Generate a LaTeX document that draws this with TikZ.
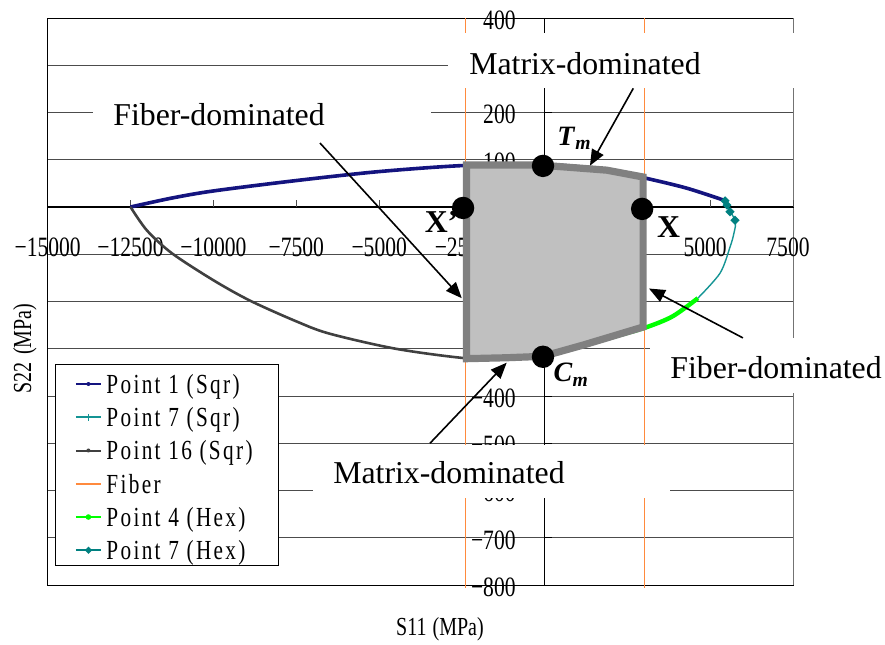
\documentclass[tikz,border=0pt]{standalone}
\usepackage{fontspec}
\setmainfont{Liberation Serif}
\newfontfamily\ticksf[FakeStretch=0.77]{Liberation Serif}
\newfontfamily\legsf[FakeStretch=0.77,LetterSpace=8.5]{Liberation Serif}
\usepackage{tikz}
\usetikzlibrary{arrows.meta,positioning}
\definecolor{cPone}{HTML}{14147F}
\definecolor{cPseven}{HTML}{149494}
\definecolor{cPsixteen}{HTML}{404040}
\definecolor{cFib}{HTML}{FF8A3D}
\definecolor{cHexfour}{HTML}{00FF00}
\definecolor{cHexseven}{HTML}{008080}
\definecolor{cRegion}{HTML}{C0C0C0}
\definecolor{cEdge}{HTML}{808080}

\begin{document}
\begin{tikzpicture}[>=Stealth,x=16.578pt,y=23.625pt,
   grid/.style={black!70,line width=0.5pt},
   ticklab/.style={font=\ticksf\fontsize{14}{14}\selectfont,inner sep=0pt},
   legtext/.style={font=\legsf\fontsize{13.8}{14}\selectfont,inner sep=0pt,anchor=base west},
   note/.style={font=\fontsize{15.9}{18}\selectfont,inner sep=0pt,anchor=base},
   ptlab/.style={font=\bfseries\fontsize{15.9}{18}\selectfont,inner sep=0pt},
   sublab/.style={font=\fontsize{14}{16}\selectfont,inner sep=0pt,anchor=base west},
   ptr/.style={-{Triangle[length=8pt,width=6.5pt]},line width=0.8pt}]
  \useasboundingbox (-16.437,-9.249) rectangle (10.255,4.381);
  % grid and frame
  \foreach \v in {-8,...,4}{\draw[grid] (-15,\v) -- (7.5,\v);}
  \draw[line width=0.5pt] (7.5,4) -- (-15,4) -- (-15,-8) -- (7.5,-8);
  \draw[black!55,line width=0.5pt] (7.5,4) -- (7.5,-8);
  % axes
  \draw[line width=0.6pt] (-15,0) -- (7.5,0);
  \draw[line width=0.5pt] (0,-8) -- (0,4);
  \foreach \v in {-12.5,-10,-7.5,-5,-2.5,2.5,5,7.5}{\draw[grid] (\v,0) -- (\v,0.15);}
  \foreach \v in {-8,...,4}{\draw (0,\v) -- (0.22,\v);}
  % fiber limits
  \draw[cFib,line width=0.9pt] (-2.4,4) -- (-2.4,-8.06);
  \draw[cFib,line width=0.9pt] (3.0,4) -- (3.0,-8.06);
  % tick labels
  \foreach \v/\t [count=\i] in {-15/−15000,-12.5/−12500,-10/−10000,-7.5/−7500,
      -5/−5000,-2.49/−2500,4.83/5000,7.33/7500}
    \node[ticklab,anchor=base] (xlab\i) at (\v,-1.05) {\t};
  \foreach \v/\t [count=\i] in {4/400,2/200,1/100,-4/−400,-5/−500,-6/−600,-7/−700,-8/−800}
    \node[ticklab,anchor=base east] (ylab\i) at (-0.875,\v-0.24) {\t};
  \node[ticklab,font=\ticksf\fontsize{13}{13}\selectfont,anchor=base] (xtitle)
       at (-3.167,-9.07) {S11\hspace{3pt}(MPa)};
  \node[ticklab,font=\ticksf\fontsize{13}{13}\selectfont,anchor=base,rotate=90] (ytitle)
       at (-15.5,-3.0) {S22\hspace{4pt}(MPa)};
  % curves
  \draw[cPone,line width=1.8pt] plot[smooth] coordinates {(-12.5,0) (-11.25,0.19)
       (-10,0.34) (-7.5,0.56) (-5,0.75) (-2.4,0.88) (0,0.9) (1.9,0.78) (3.1,0.6)
       (4.27,0.4) (5.37,0.15)};
  \draw[cPsixteen,line width=1.3pt] plot[smooth] coordinates {(-12.5,0) (-12.0,-0.5)
       (-11.25,-0.98) (-10,-1.55) (-8.9,-1.98) (-7.5,-2.42) (-6.5,-2.68) (-4.5,-3.0)
       (-2.4,-3.2) (-1,-3.22)};
  \draw[cPseven,line width=0.7pt] plot[smooth] coordinates {(5.37,0.15) (5.73,-0.28)
       (5.7,-0.55) (5.58,-0.85) (5.28,-1.4) (4.61,-1.93)};
  \draw[cHexfour,line width=2.2pt] plot[smooth] coordinates {(1.2,-2.92) (2.2,-2.72)
       (3.08,-2.54) (3.86,-2.31) (4.61,-1.93)};
  \foreach \p in {(5.43,0.13),(5.49,0.04),(5.58,-0.1),(5.73,-0.28)}
    \fill[cHexseven] \p +(0,2.3pt) -- +(2.3pt,0) -- +(0,-2.3pt) -- +(-2.3pt,0) -- cycle;
  % failure envelope
  \draw[fill=cRegion,draw=cEdge,line width=3.6pt] (-2.37,0.89) -- (-0.2,0.89)
       -- (1.86,0.78) -- (2.96,0.635) -- (2.96,-2.54) -- (1.16,-2.92) -- (-0.06,-3.16)
       -- (-1.15,-3.19) -- (-2.37,-3.21) -- cycle;
  \coordinate (Tm) at (-0.06,0.87);
  \coordinate (Xp) at (-2.47,-0.02);
  \coordinate (X) at (2.93,-0.04);
  \coordinate (Cm) at (-0.06,-3.17);
  \foreach \p in {Tm,Xp,X,Cm}{\fill (\p) circle (5.6pt);}
  \node[ptlab] (labX) at (3.725,-0.434) {X};
  \node[ptlab] (labXp) at (-3.12,-0.32) {X’};
  \node[sublab] (labTm) at (0.36,1.30) {\textbf{\textit{T}\textsubscript{\textit{m}}}};
  \node[sublab] (labCm) at (0.25,-3.70) {\textbf{\textit{C}\textsubscript{\textit{m}}}};
  % legend
  \draw[fill=white,line width=0.5pt] (-14.76,-3.323) rectangle (-8.04,-7.577);
  \foreach \c/\t [count=\i] in {cPone/Point 1 (Sqr),cPseven/Point 7 (Sqr),
      cPsixteen/Point 16 (Sqr),cFib/Fiber,cHexfour/Point 4 (Hex),cHexseven/Point 7 (Hex)}{
    \pgfmathsetmacro\y{-3.746-0.7037*(\i-1)}
    \draw[\c,line width=1pt] (-14.145,\y) -- (-13.39,\y);
    \node[legtext] (leg\i) at (-13.24,\y-0.197) {\t};
  }
  \fill[cPone] (-13.77,-3.746) circle (1pt);
  \draw[cPseven,line width=0.5pt] (-13.77,-4.38) -- (-13.77,-4.52);
  \fill[cPsixteen] (-13.77,-5.153) circle (1pt);
  \fill[cHexfour] (-13.77,-6.561) circle (1.4pt);
  \fill[cHexseven] (-13.77,-7.264) +(0,1.8pt) -- +(1.8pt,0) -- +(0,-1.8pt) -- +(-1.8pt,0) -- cycle;
  % annotations
  \fill[white] (-13.63,2.5) rectangle (-3.44,1.36);
  \fill[white] (-2.93,3.68) rectangle (8.6,2.52);
  \fill[white] (3.17,-2.77) rectangle (10.5,-3.94);
  \fill[white] (-7.0,-5.03) rectangle (3.77,-6.16);
  \node[note] (fibL) at (-9.83,1.735) {Fiber-dominated};
  \node[note] (matT) at (1.206,2.794) {Matrix-dominated};
  \node[note] (fibR) at (6.97,-3.626) {Fiber-dominated};
  \node[note] (matB) at (-2.895,-5.85) {Matrix-dominated};
  \coordinate (fibLs) at (-6.786,1.354);
  \coordinate (fibLe) at (-2.51,-1.93);
  \coordinate (matTs) at (2.664,2.512);
  \coordinate (matTe) at (1.357,0.875);
  \coordinate (fibRs) at (5.97,-2.77);
  \coordinate (fibRe) at (3.137,-1.725);
  \coordinate (matBs) at (-3.468,-5.0);
  \coordinate (matBe) at (-1.155,-3.295);
  \draw[ptr] (fibLs) -- (fibLe);
  \draw[ptr] (matTs) -- (matTe);
  \draw[ptr] (fibRs) -- (fibRe);
  \draw[ptr] (matBs) -- (matBe);
\end{tikzpicture}
\end{document}
